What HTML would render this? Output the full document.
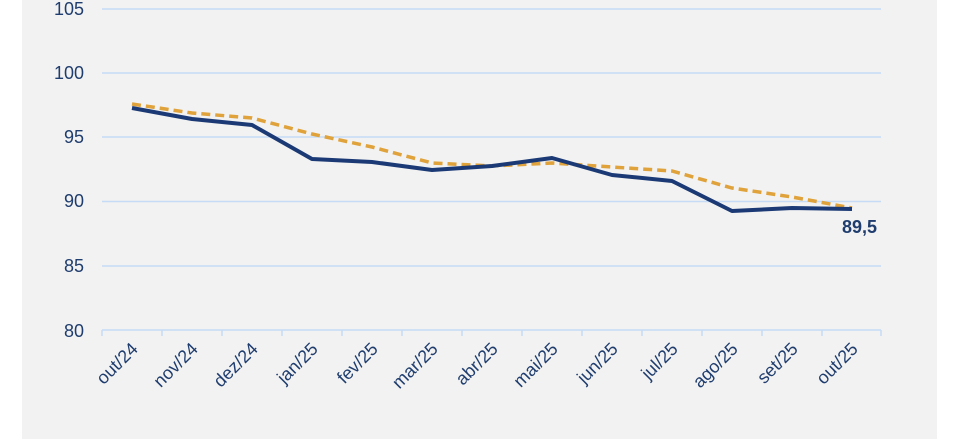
<!DOCTYPE html><html><head><style>body{margin:0;background:#fff}svg{display:block}</style></head><body>
<svg width="971" height="439" xmlns="http://www.w3.org/2000/svg" font-family="Liberation Sans, sans-serif">
<rect x="22" y="0" width="915" height="439" fill="#f2f2f2"/>
<g stroke="#c5dbf6" stroke-width="1.5">
<line x1="102" x2="881" y1="9" y2="9"/><line x1="102" x2="881" y1="73" y2="73"/><line x1="102" x2="881" y1="137" y2="137"/><line x1="102" x2="881" y1="201.5" y2="201.5"/><line x1="102" x2="881" y1="266" y2="266"/><line x1="102" x2="881" y1="330" y2="330"/>
<path d="M102 330v6M162 330v6M222 330v6M282 330v6M342 330v6M402 330v6M462 330v6M522 330v6M582 330v6M642 330v6M702 330v6M762 330v6M822 330v6M881 330v6"/>
</g>
<g fill="#1f3d6e" font-size="18" text-anchor="end">
<text x="84" y="15">105</text><text x="84" y="79">100</text><text x="84" y="143">95</text><text x="84" y="207">90</text><text x="84" y="272">85</text><text x="84" y="337">80</text>
</g>
<g fill="#1f3d6e" font-size="18" text-anchor="end">
<text transform="translate(139,350) rotate(-45)">out/24</text>
<text transform="translate(199,350) rotate(-45)">nov/24</text>
<text transform="translate(259,350) rotate(-45)">dez/24</text>
<text transform="translate(319,350) rotate(-45)">jan/25</text>
<text transform="translate(379,350) rotate(-45)">fev/25</text>
<text transform="translate(439,350) rotate(-45)">mar/25</text>
<text transform="translate(499,350) rotate(-45)">abr/25</text>
<text transform="translate(559,350) rotate(-45)">mai/25</text>
<text transform="translate(619,350) rotate(-45)">jun/25</text>
<text transform="translate(679,350) rotate(-45)">jul/25</text>
<text transform="translate(739,350) rotate(-45)">ago/25</text>
<text transform="translate(799,350) rotate(-45)">set/25</text>
<text transform="translate(859,350) rotate(-45)">out/25</text>
</g>
<polyline fill="none" stroke="#e0a23a" stroke-width="3.5" stroke-dasharray="9,5" points="132,104 192,113 252,118 312,134 372,147 432,163 492,166 552,163 612,167 672,171 732,188 792,197 852,208"/>
<polyline fill="none" stroke="#1b3a75" stroke-width="4" stroke-linejoin="round" points="132,108 192,119 252,125 312,159 372,162 432,170 492,166 552,158 612,175 672,181 732,211 792,208 852,209"/>
<text x="877" y="233" fill="#1f3d6e" font-size="18" font-weight="bold" text-anchor="end">89,5</text>
</svg></body></html>
